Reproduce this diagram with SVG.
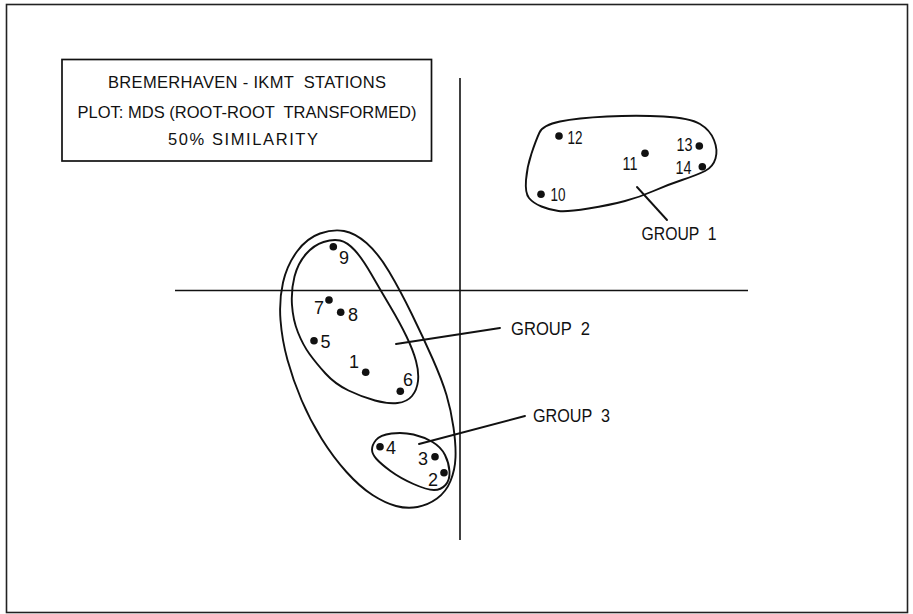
<svg xmlns="http://www.w3.org/2000/svg" width="913" height="614" viewBox="0 0 913 614">
<style>
.ln{fill:none;stroke:#111;stroke-width:1.9;stroke-linecap:round;stroke-linejoin:round}
.ax{fill:none;stroke:#111;stroke-width:1.6}
.dot{fill:#111}
text{font-family:"Liberation Sans","Arial",sans-serif;fill:#111}
.t{font-size:16.5px;text-anchor:middle}
.n{font-size:18px}
.g{font-size:19px}
</style>
<rect x="0" y="0" width="913" height="614" fill="#fff"/>
<rect id="frame" x="6.5" y="4.5" width="901" height="608" fill="none" stroke="#222" stroke-width="1.6"/>
<g id="title">
<rect x="62" y="59.5" width="369.5" height="101.5" fill="none" stroke="#111" stroke-width="1.7"/>
<text class="t" x="247" y="88" textLength="278" lengthAdjust="spacing" xml:space="preserve">BREMERHAVEN - IKMT  STATIONS</text>
<text class="t" x="247" y="118" textLength="339" lengthAdjust="spacing" xml:space="preserve">PLOT: MDS (ROOT-ROOT  TRANSFORMED)</text>
<text class="t" x="243" y="144.5" textLength="150" lengthAdjust="spacing">50% SIMILARITY</text>
</g>
<g id="axes">
<line class="ax" x1="460" y1="78" x2="460" y2="540"/>
<line class="ax" x1="175" y1="290.5" x2="748" y2="290.5"/>
</g>
<g id="connectors">
<line class="ln" x1="637" y1="187" x2="667" y2="220"/>
<line class="ln" x1="396" y1="344" x2="500" y2="328"/>
<line class="ln" x1="419" y1="444" x2="525" y2="416"/>
</g>
<g id="group1">
<path class="ln" d="M539.5,132.5 Q543,125 560,121.5 Q577,118 607,116.5 Q637,115 663.5,116.5 Q690,118 700,124 Q710,130 714,140 Q718,150 715.5,158.5 Q713,167 705,171 Q697,175 682,180 Q667,185 653.5,191 Q640,197 625,201 Q610,205 588.5,208.5 Q567,212 558.5,211 Q550,210 541.5,206.5 Q533,203 529,198 Q525,193 526,180 Q527,167 531.5,153.5 Q536,140 539.5,132.5 Z"/>
<text class="g" x="641.5" y="240" textLength="75" lengthAdjust="spacingAndGlyphs" xml:space="preserve">GROUP  1</text>
</g>
<g id="group2">
<path class="ln" d="M323.5,242 Q333,239 340,240.5 Q347,242 354.5,250 Q362,258 371.5,274.5 Q381,291 390.5,307 Q400,323 406.5,336.5 Q413,350 416,361 Q419,372 418,381 Q417,390 412,396 Q407,402 397.5,403 Q388,404 375,400.5 Q362,397 348.5,390.5 Q335,384 325.5,373.5 Q316,363 309.5,354 Q303,345 298,332.5 Q293,320 292,305 Q291,290 294.5,276.5 Q298,263 306,254 Q314,245 323.5,242 Z"/>
<text class="g" x="511" y="335" textLength="79" lengthAdjust="spacingAndGlyphs" xml:space="preserve">GROUP  2</text>
</g>
<g id="group3">
<path class="ln" d="M372,449.5 Q372,445 376,440 Q380,435 391.5,433.5 Q403,432 413.5,434.5 Q424,437 432.5,442 Q441,447 445,455 Q449,463 449.5,471.5 Q450,480 445.5,485 Q441,490 434,490 Q427,490 413.5,484 Q400,478 390.5,471 Q381,464 376.5,459 Q372,454 372,449.5 Z"/>
<text class="g" x="533" y="421.5" textLength="77" lengthAdjust="spacingAndGlyphs" xml:space="preserve">GROUP  3</text>
</g>
<g id="outer">
<path class="ln" d="M320,233.5 Q333,229 344,231 Q355,233 366.5,243 Q378,253 389,271.5 Q400,290 411.5,313.5 Q423,337 432.5,358.5 Q442,380 446.5,395 Q451,410 453.5,427.5 Q456,445 455.5,457.5 Q455,470 450.5,481 Q446,492 437,498.5 Q428,505 417.5,507 Q407,509 396,506 Q385,503 372.5,495 Q360,487 346.5,472 Q333,457 321.5,438.5 Q310,420 301.5,400 Q293,380 287.5,360 Q282,340 280.5,320 Q279,300 283,282.5 Q287,265 297,251.5 Q307,238 320,233.5 Z"/>
</g>
<g id="stations">
<g id="s1"><circle class="dot" cx="365.7" cy="372.3" r="3.8"/><text class="n" x="349" y="368">1</text></g>
<g id="s2"><circle class="dot" cx="444" cy="472.7" r="3.8"/><text class="n" x="428" y="485.5">2</text></g>
<g id="s3"><circle class="dot" cx="435" cy="456.7" r="3.8"/><text class="n" x="418" y="464.5">3</text></g>
<g id="s4"><circle class="dot" cx="380" cy="446.7" r="3.8"/><text class="n" x="386" y="453.5">4</text></g>
<g id="s5"><circle class="dot" cx="314" cy="340.7" r="3.8"/><text class="n" x="320.5" y="347.5">5</text></g>
<g id="s6"><circle class="dot" cx="400.3" cy="391.3" r="3.8"/><text class="n" x="403" y="385.5">6</text></g>
<g id="s7"><circle class="dot" cx="329" cy="300" r="3.8"/><text class="n" x="314" y="313.5">7</text></g>
<g id="s8"><circle class="dot" cx="340.7" cy="312.3" r="3.8"/><text class="n" x="348" y="320.5">8</text></g>
<g id="s9"><circle class="dot" cx="333.3" cy="246.7" r="3.8"/><text class="n" x="339" y="263.5">9</text></g>
<g id="s10"><circle class="dot" cx="541" cy="194.3" r="3.8"/><text class="n" x="550.5" y="201" textLength="15" lengthAdjust="spacingAndGlyphs">10</text></g>
<g id="s11"><circle class="dot" cx="645" cy="153.3" r="3.8"/><text class="n" x="622.5" y="169.5" textLength="15" lengthAdjust="spacingAndGlyphs">11</text></g>
<g id="s12"><circle class="dot" cx="559" cy="136" r="3.8"/><text class="n" x="567.5" y="143.5" textLength="15" lengthAdjust="spacingAndGlyphs">12</text></g>
<g id="s13"><circle class="dot" cx="699.3" cy="146" r="3.8"/><text class="n" x="676.5" y="150.5" textLength="16" lengthAdjust="spacingAndGlyphs">13</text></g>
<g id="s14"><circle class="dot" cx="702.3" cy="166.7" r="3.8"/><text class="n" x="675.5" y="173.5" textLength="16" lengthAdjust="spacingAndGlyphs">14</text></g>
</g>
</svg>
